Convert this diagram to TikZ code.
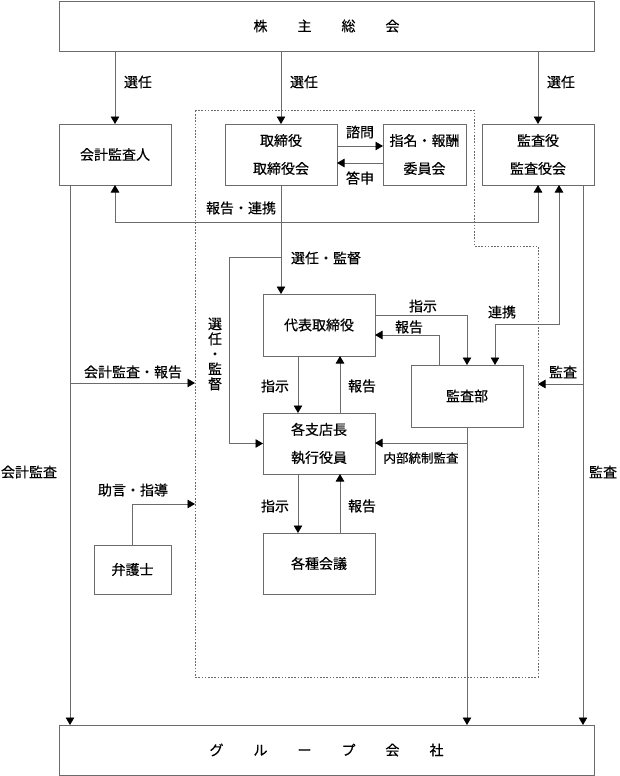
\documentclass[tikz,border=0pt]{standalone}
\usepackage{fontspec}
\setmainfont[FakeBold=0.4,AutoFakeBold=0.4]{Noto Sans CJK JP}
\usetikzlibrary{arrows.meta,calc}
\definecolor{lc}{rgb}{0.42,0.42,0.42}
\begin{document}
\begin{tikzpicture}[x=1pt,y=-1pt,
  every node/.style={font=\fontsize{14}{28}\selectfont, inner sep=0pt, outer sep=0pt},
  box/.style={draw=lc, line width=0.8pt, minimum width=112pt, minimum height=61pt, align=center},
  ln/.style={draw=lc, line width=0.8pt},
  arr/.style={ln, -{Triangle[width=8.5pt,length=7.5pt,color=black]}},
  darr/.style={ln, {Triangle[width=8.5pt,length=7.5pt,color=black]}-{Triangle[width=8.5pt,length=7.5pt,color=black]}},
  dotline/.style={draw=lc, line width=0.8pt, dash pattern=on 1.6pt off 1.6pt},
  vlbl/.style={align=center, font=\fontsize{14}{15}\selectfont}]
\useasboundingbox (0,0) rectangle (620,776);

% region
\draw[dotline] (195,110) -- (474,110) -- (474,246) -- (538,246) -- (538,677) -- (195,677) -- cycle;

% boxes
\node[box, minimum width=535pt, minimum height=50pt] (kabu) at (326.5,26) {株\hspace{30pt}主\hspace{30pt}総\hspace{30pt}会};
\node[box] (kaikei) at (115,154.5) {会計監査人};
\node[box] (tori) at (281,154.5) {取締役\\取締役会};
\node[box, minimum width=83pt] (shimei) at (424.5,154.5) {指名・報酬\\委員会};
\node[box] (kansa) at (538,154.5) {監査役\\監査役会};
\node[box, minimum height=62pt] (daihyo) at (319,325) {代表取締役};
\node[box, minimum height=62pt] (kansabu) at (467,396) {監査部};
\node[box] (shiten) at (319,443.5) {各支店長\\執行役員};
\node[box] (kaigi) at (319,563.5) {各種会議};
\node[box, minimum width=77pt, minimum height=49pt] (bengo) at (132.5,569.5) {弁護士};
\node[box, minimum width=535pt, minimum height=50pt] (group) at (326.5,750) {グ\hspace{30pt}ル\hspace{30pt}ー\hspace{30pt}プ\hspace{30pt}会\hspace{30pt}社};

% coordinates
\coordinate (c1) at (0,146);
\coordinate (c2) at (0,163);
\coordinate (r1) at (0,222);
\coordinate (k1) at (559,324);
\coordinate (k2) at (495,0);
\coordinate (m1) at (583,0);
\coordinate (m2) at (583,384);
\coordinate (dotR) at (538,384);
\coordinate (a1) at (70,0);
\coordinate (a2) at (70,383);
\coordinate (dotL1) at (195,383);
\coordinate (s1) at (229,257);
\coordinate (x1) at (298,0);
\coordinate (x2) at (340,0);
\coordinate (y1) at (467,315);
\coordinate (y2) at (439,335);
\coordinate (z1) at (467,443);
\coordinate (b1) at (133,504);
\coordinate (dotL2) at (195,504);

% connectors
\draw[arr] (kabu.south -| kaikei.north) -- (kaikei.north);
\draw[arr] (kabu.south -| tori.north) -- (tori.north);
\draw[arr] (kabu.south -| kansa.north) -- (kansa.north);
\draw[arr] (tori.east |- c1) -- (shimei.west |- c1);
\draw[arr] (shimei.west |- c2) -- (tori.east |- c2);
\draw[darr] (kaikei.south) -- (kaikei.south |- r1) -- (kansa.south |- r1) -- (kansa.south);
\draw[darr] (k1 |- kansa.south) -- (k1) -- (k2 |- k1) -- (k2 |- kansabu.north);
\draw[arr] (m1 |- kansa.south) -- (m1 |- group.north);
\draw[arr] (m2) -- (dotR);
\draw[arr] (a1 |- kaikei.south) -- (a1 |- group.north);
\draw[arr] (a2) -- (dotL1);
\draw[arr] (tori.south) -- (tori.south |- daihyo.north);
\draw[arr] (tori.south |- s1) -- (s1) -- (s1 |- shiten.west) -- (shiten.west);
\draw[arr] (x1 |- daihyo.south) -- (x1 |- shiten.north);
\draw[arr] (x2 |- shiten.north) -- (x2 |- daihyo.south);
\draw[arr] (x1 |- shiten.south) -- (x1 |- kaigi.north);
\draw[arr] (x2 |- kaigi.north) -- (x2 |- shiten.south);
\draw[arr] (daihyo.east |- y1) -- (y1) -- (kansabu.north);
\draw[arr] (y2 |- kansabu.north) -- (y2) -- (daihyo.east |- y2);
\draw[arr] (kansabu.south) -- (kansabu.south |- group.north);
\draw[arr] (z1) -- (shiten.east |- z1);
\draw[arr] (bengo.north) -- (bengo.north |- b1) -- (dotL2);

% labels
\node[anchor=west] (l1) at (124,82) {選任};
\node[anchor=west] (l2) at (290,82) {選任};
\node[anchor=west] (l3) at (547,82) {選任};
\node (l4) at (360,132) {諮問};
\node (l5) at (360,178) {答申};
\node (l6) at (241,208) {報告・連携};
\node (l7) at (326,258) {選任・監督};
\node[vlbl] (l8) at (215,354) {選\\任\\・\\監\\督};
\node (l9) at (133,372) {会計監査・報告};
\node (l10) at (563,372) {監査};
\node (l11) at (502,312) {連携};
\node (l12) at (423,306) {指示};
\node (l13) at (409,327) {報告};
\node (l14) at (275,386) {指示};
\node (l15) at (362,386) {報告};
\node[font=\fontsize{12.5}{14}\selectfont] (l16) at (421,458) {内部統制監査};
\node (l17) at (275,506) {指示};
\node (l18) at (362,506) {報告};
\node (l19) at (133,490) {助言・指導};
\node (l20) at (29,472) {会計監査};
\node (l21) at (603,472) {監査};
\end{tikzpicture}
\end{document}
